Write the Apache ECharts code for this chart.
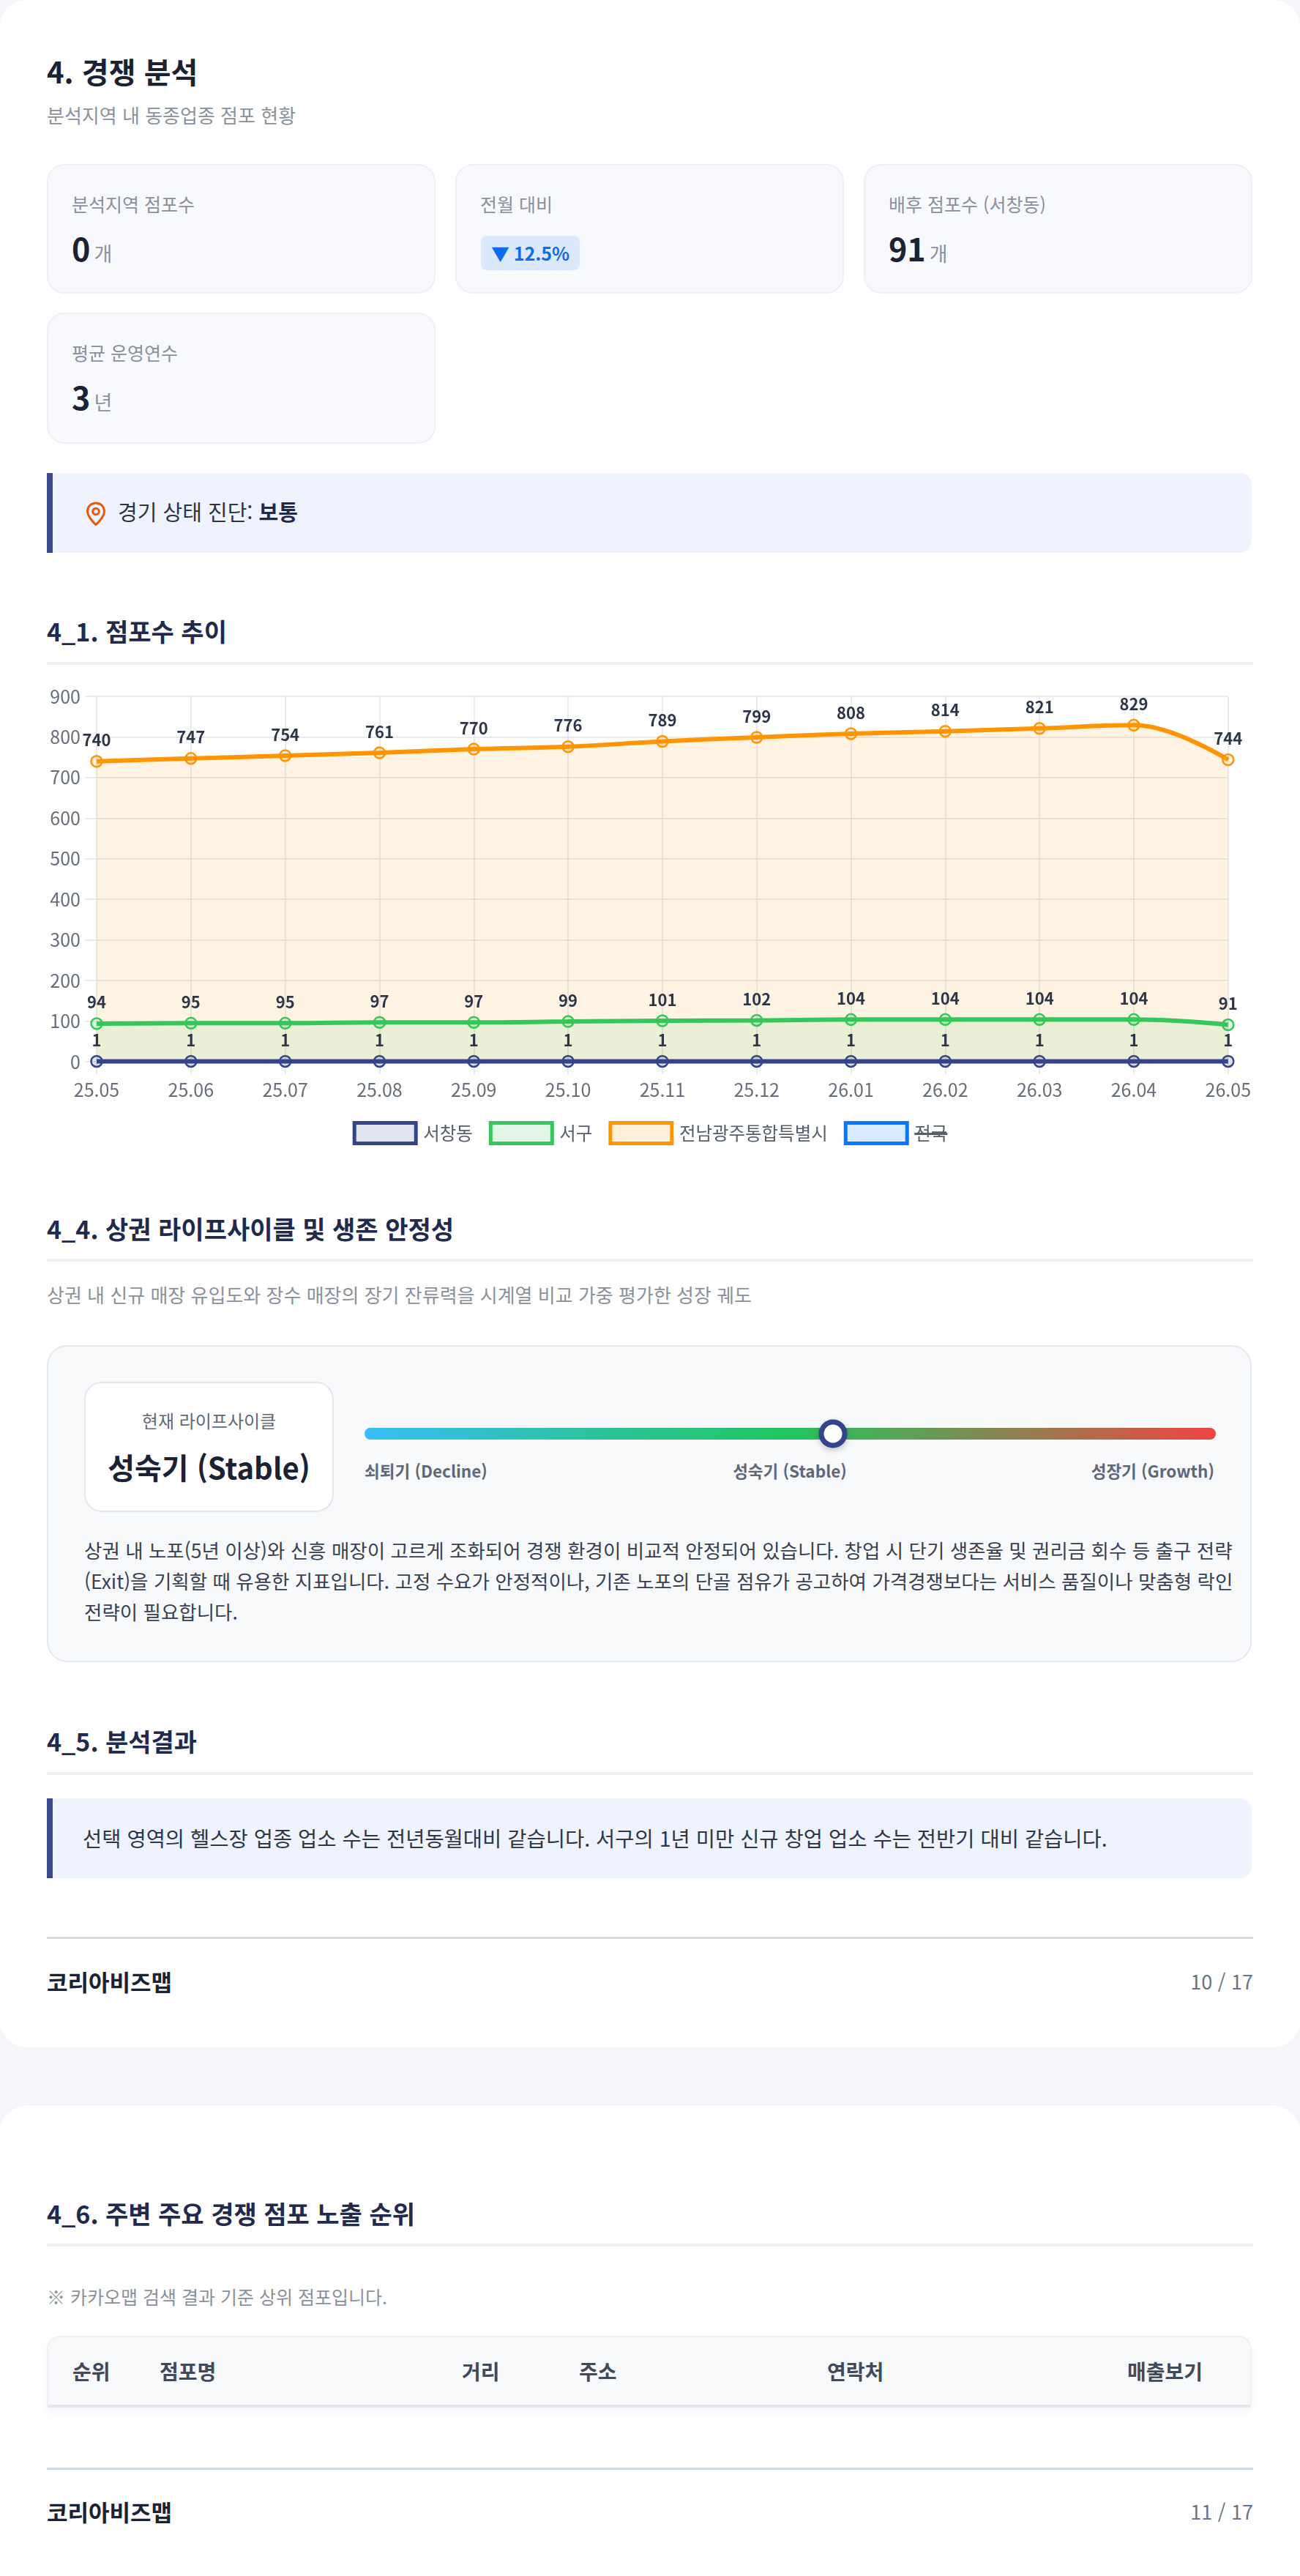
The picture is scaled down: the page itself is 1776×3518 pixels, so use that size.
<!DOCTYPE html>
<html lang="ko">
<head>
<meta charset="utf-8">
<title>4. 경쟁 분석</title>
<script src="https://cdn.jsdelivr.net/npm/echarts@6/dist/echarts.min.js"></script>
<style>
  html, body { margin: 0; padding: 0; }
  body {
    width: 1776px; height: 3518px; position: relative; overflow: hidden;
    background: #f4f6f9;
    font-family: 'Noto Sans CJK KR', 'Noto Sans', sans-serif;
    color: #1a2233;
  }
  .page { position: absolute; left: 0; width: 1776px; background: #fff; border-radius: 36px; }
  .abs { position: absolute; white-space: nowrap; }

  .h1 { left: 64px; top: 72px; font-size: 40px; line-height: 50px; font-weight: 700; color: #1a2233; }
  .sub { left: 64px; font-size: 26px; line-height: 40px; color: #8a919d; }
  .sec { left: 64px; font-size: 34px; line-height: 44px; font-weight: 700; color: #1f2a4d; }
  .rule { left: 64px; width: 1648px; height: 4px; background: #eef0f4; }

  .kpi {
    position: absolute; width: 531px; box-sizing: border-box;
    background: #f8f9fc; border: 2px solid #eef0f4; border-radius: 24px;
  }
  .kpi .lbl { position: absolute; left: 32px; top: 32px; font-size: 25px; line-height: 40px; color: #8a909c; }
  .kpi .val { position: absolute; left: 32px; top: 84px; line-height: 56px; white-space: nowrap; }
  .kpi .num { font-size: 43px; font-weight: 700; color: #1a2233; }
  .kpi .unit { font-size: 27px; color: #8a909c; margin-left: 5px; }
  .badge {
    position: absolute; left: 33px; top: 96px; height: 47px; padding: 0 14px;
    background: #dce9fd; border-radius: 8px; color: #0b6cf0;
    font-size: 25px; font-weight: 700; line-height: 47px;
  }

  .note-box {
    position: absolute; left: 64px; width: 1646px; box-sizing: border-box;
    background: #eef3fd; border-left: 8px solid #3b4a8a; border-radius: 0 16px 16px 0;
  }

  .life {
    position: absolute; left: 64px; top: 1837px; width: 1646px; height: 433px; box-sizing: border-box;
    background: #f8f9fb; border: 2px solid #e3e7ee; border-radius: 28px;
  }
  .life .stage {
    position: absolute; left: 49px; top: 48px; width: 341px; height: 178px; box-sizing: border-box;
    background: #fff; border: 2px solid #e3e7ee; border-radius: 24px; text-align: center;
  }
  .bar {
    position: absolute; left: 432px; top: 111px; width: 1163px; height: 16px; border-radius: 8px;
    background: linear-gradient(90deg, #38bdf8 0%, #2cc39a 28%, #22c55e 50%, #8a8450 75%, #ef4444 100%);
  }
  .marker {
    position: absolute; top: 8px; width: 39px; height: 39px; box-sizing: border-box;
    transform: translate(-50%, -50%);
    background: #fff; border: 7px solid #34448a; border-radius: 50%;
    box-shadow: 0 3px 8px rgba(0,0,0,0.22);
  }
  .glabel { position: absolute; top: 153px; font-size: 22.5px; line-height: 32px; font-weight: 700; color: #5e6879; white-space: nowrap; }

  .foot-line { left: 64px; width: 1648px; height: 3px; background: #cfd8e3; }
  .brand { left: 64px; font-size: 31px; line-height: 44px; font-weight: 700; color: #1a2233; }
  .pno { right: 64px; font-size: 27px; line-height: 44px; color: #64748b; }

  .thead {
    position: absolute; left: 64px; top: 314px; width: 1646px; height: 98px; box-sizing: border-box;
    background: #f8f9fb; border: 2px solid #eff1f5; border-bottom: 4px solid #e3e8ef;
    border-radius: 18px 18px 4px 4px; box-shadow: 0 6px 12px rgba(20,30,60,0.04);
  }
  .thead span { position: absolute; top: 0; line-height: 92px; font-size: 28px; font-weight: 700; color: #3f4a5c; }
</style>
</head>
<body>

<div class="page" style="top:0; height:2796px;">
  <div class="abs h1">4. 경쟁 분석</div>
  <div class="abs sub" style="top:137px;">분석지역 내 동종업종 점포 현황</div>

  <div class="kpi" style="left:64px; top:224px; height:177px;">
    <div class="lbl">분석지역 점포수</div>
    <div class="val"><span class="num">0</span><span class="unit">개</span></div>
  </div>
  <div class="kpi" style="left:622px; top:224px; height:177px;">
    <div class="lbl">전월 대비</div>
    <div class="badge">▼ 12.5%</div>
  </div>
  <div class="kpi" style="left:1180px; top:224px; height:177px;">
    <div class="lbl">배후 점포수 (서창동)</div>
    <div class="val"><span class="num">91</span><span class="unit">개</span></div>
  </div>
  <div class="kpi" style="left:64px; top:427px; height:179px;">
    <div class="lbl">평균 운영연수</div>
    <div class="val"><span class="num">3</span><span class="unit">년</span></div>
  </div>

  <div class="note-box" style="top:646px; height:109px;">
    <svg style="position:absolute; left:45px; top:39px;" width="28" height="34" viewBox="0 0 28 34">
      <path d="M14 2 C7.4 2 2.5 7 2.5 13.3 C2.5 21.5 14 31.5 14 31.5 C14 31.5 25.5 21.5 25.5 13.3 C25.5 7 20.6 2 14 2 Z"
            fill="none" stroke="#e8590c" stroke-width="3" stroke-linejoin="round"/>
      <circle cx="14" cy="13.5" r="4.3" fill="none" stroke="#e8590c" stroke-width="3"/>
    </svg>
    <div class="abs" style="left:89px; top:30px; font-size:29px; line-height:44px; color:#2d3446;">경기 상태 진단: <b style="color:#1e2a4d;">보통</b></div>
  </div>

  <div class="abs sec" style="top:840px;">4_1. 점포수 추이</div>
  <div class="abs rule" style="top:904px;"></div>
  <div id="trendChart" class="abs" style="left:64px; top:925px; width:1648px; height:650px;"></div>

  <div class="abs sec" style="top:1656px;">4_4. 상권 라이프사이클 및 생존 안정성</div>
  <div class="abs rule" style="top:1719px;"></div>
  <div class="abs sub" style="top:1748px;">상권 내 신규 매장 유입도와 장수 매장의 장기 잔류력을 시계열 비교 가중 평가한 성장 궤도</div>

  <div class="life">
    <div class="stage">
      <div style="position:absolute; left:0; right:0; top:31px; font-size:24px; line-height:40px; color:#5f6878;">현재 라이프사이클</div>
      <div style="position:absolute; left:0; right:0; top:86px; font-size:40px; line-height:56px; font-weight:700; color:#1a2233;">성숙기 (Stable)</div>
    </div>
    <div class="bar"><div class="marker" id="lifeMarker"></div></div>
    <div class="glabel" style="left:432px;">쇠퇴기 (Decline)</div>
    <div class="glabel" style="left:1013px; transform:translateX(-50%);">성숙기 (Stable)</div>
    <div class="glabel" style="right:49px;">성장기 (Growth)</div>
    <div class="abs" style="left:49px; top:257px; font-size:26.5px; line-height:42px; color:#374151;">상권 내 노포(5년 이상)와 신흥 매장이 고르게 조화되어 경쟁 환경이 비교적 안정되어 있습니다. 창업 시 단기 생존율 및 권리금 회수 등 출구 전략<br>(Exit)을 기획할 때 유용한 지표입니다. 고정 수요가 안정적이나, 기존 노포의 단골 점유가 공고하여 가격경쟁보다는 서비스 품질이나 맞춤형 락인<br>전략이 필요합니다.</div>
  </div>

  <div class="abs sec" style="top:2356px;">4_5. 분석결과</div>
  <div class="abs rule" style="top:2420px;"></div>
  <div class="note-box" style="top:2456px; height:109px;">
    <div class="abs" style="left:41px; top:32px; font-size:28.5px; line-height:44px; color:#2d3748;">선택 영역의 헬스장 업종 업소 수는 전년동월대비 같습니다. 서구의 1년 미만 신규 창업 업소 수는 전반기 대비 같습니다.</div>
  </div>

  <div class="abs foot-line" style="top:2645px;"></div>
  <div class="abs brand" style="top:2684px;">코리아비즈맵</div>
  <div class="abs pno" style="top:2684px;">10 / 17</div>
</div>

<div class="page" style="top:2876px; height:700px;">
  <div class="abs sec" style="top:125px;">4_6. 주변 주요 경쟁 점포 노출 순위</div>
  <div class="abs rule" style="top:188px;"></div>
  <div class="abs sub" style="top:240px; font-size:25px;">※ 카카오맵 검색 결과 기준 상위 점포입니다.</div>
  <div class="thead">
    <span style="left:33px;">순위</span>
    <span style="left:152px;">점포명</span>
    <span style="left:565px;">거리</span>
    <span style="left:725px;">주소</span>
    <span style="left:1064px;">연락처</span>
    <span style="right:65px;">매출보기</span>
  </div>
  <div class="abs foot-line" style="top:494px;"></div>
  <div class="abs brand" style="top:532px;">코리아비즈맵</div>
  <div class="abs pno" style="top:532px;">11 / 17</div>
</div>

<script>
// ── 데이터 ──
const months = ['25.05', '25.06', '25.07', '25.08', '25.09', '25.10', '25.11', '25.12', '26.01', '26.02', '26.03', '26.04', '26.05']
const seochangCounts = [1, 1, 1, 1, 1, 1, 1, 1, 1, 1, 1, 1, 1]
const seoguCounts = [94, 95, 95, 97, 97, 99, 101, 102, 104, 104, 104, 104, 91]
const jeonnamCounts = [740, 747, 754, 761, 770, 776, 789, 799, 808, 814, 821, 829, 744]
const nationalCounts = [] // 원본에서 숨김 처리된 계열
const seriesNames = ['서창동', '서구', '전남광주통합특별시', '전국']
const yTicks = [0, 100, 200, 300, 400, 500, 600, 700, 800, 900]

// 라이프사이클 위치 (0 = 쇠퇴기, 100 = 성장기)
const lifecycleScore = 55

const FONT = "'Noto Sans CJK KR', 'Noto Sans', sans-serif"

// 계열별 스타일 (선 색, 채움 색, 쌓임 순서)
const STYLES = [
    { line: '#34448a', fill: 'rgba(52,68,138,0.15)', z: 5 },
    { line: '#34c759', fill: 'rgba(52,199,89,0.15)', z: 4 },
    { line: '#ff9500', fill: 'rgba(255,149,0,0.15)', z: 3 },
    { line: '#007aff', fill: 'rgba(0,122,255,0.15)', z: 2 },
]
const seriesData = [seochangCounts, seoguCounts, jeonnamCounts, nationalCounts]

document.getElementById('lifeMarker').style.left = lifecycleScore + '%'

const chart = echarts.init(document.getElementById('trendChart'), null, { renderer: 'canvas' })

const gridColor = '#e4e4e4'
const labelColor = '#666e7c'
const legendColor = '#555e6c'

// 숨김 계열 범례에 취소선 효과 (배경 그라디언트로 가로줄)
const strike = new echarts.graphic.LinearGradient(0, 0, 0, 1, [
    { offset: 0, color: 'rgba(0,0,0,0)' },
    { offset: 0.47, color: 'rgba(0,0,0,0)' },
    { offset: 0.47, color: legendColor },
    { offset: 0.6, color: legendColor },
    { offset: 0.6, color: 'rgba(0,0,0,0)' },
    { offset: 1, color: 'rgba(0,0,0,0)' },
])

const option = {
    animation: false,
    textStyle: { fontFamily: FONT },
    grid: { left: 68, right: 33, top: 26, bottom: 125, containLabel: false },
    legend: {
        top: 601,
        left: 'center',
        icon: 'rect',
        itemWidth: 84,
        itemHeight: 28,
        itemGap: 22,
        selectedMode: false,
        textStyle: {
            fontSize: 24.5, color: legendColor, fontFamily: FONT, padding: [0, 0, 0, 5],
            rich: { s: { fontSize: 24.5, color: legendColor, fontFamily: FONT, backgroundColor: strike } },
        },
        formatter: (name) => (name === '전국' ? '{s|' + name + '}' : name),
        data: seriesNames.map((name, i) => ({
            name,
            itemStyle: { color: STYLES[i].fill, borderColor: STYLES[i].line, borderWidth: 5 },
        })),
    },
    xAxis: {
        type: 'category',
        data: months,
        boundaryGap: false,
        axisLine: { show: false },
        axisTick: { show: true, length: 17, lineStyle: { color: gridColor, width: 1.5 } },
        axisLabel: { interval: 0, margin: 26, fontSize: 25, color: labelColor, fontFamily: FONT },
        splitLine: { show: true, lineStyle: { color: gridColor, width: 1.5 } },
    },
    yAxis: {
        type: 'value',
        min: yTicks[0],
        max: yTicks[yTicks.length - 1],
        interval: yTicks[1] - yTicks[0],
        axisLine: { show: false },
        axisTick: { show: true, length: 16, lineStyle: { color: gridColor, width: 1.5 } },
        axisLabel: { margin: 22, fontSize: 25, color: labelColor, fontFamily: FONT },
        splitLine: { show: true, lineStyle: { color: gridColor, width: 1.5 } },
    },
    series: seriesNames.map((name, i) => ({
        name,
        type: 'line',
        data: seriesData[i],
        z: STYLES[i].z,
        smooth: 0.4,
        symbol: 'circle',
        symbolSize: 15,
        lineStyle: { color: STYLES[i].line, width: 6 },
        itemStyle: { color: STYLES[i].fill, borderColor: STYLES[i].line, borderWidth: 2.5 },
        areaStyle: { color: STYLES[i].fill, origin: 'start' },
        label: {
            show: true, position: 'top', distance: 9,
            fontSize: 22, fontWeight: 'bold', color: '#2d3648', fontFamily: FONT,
        },
        emphasis: { disabled: true },
    })),
}

chart.setOption(option)
window.addEventListener('resize', () => chart.resize())
</script>
</body>
</html>
